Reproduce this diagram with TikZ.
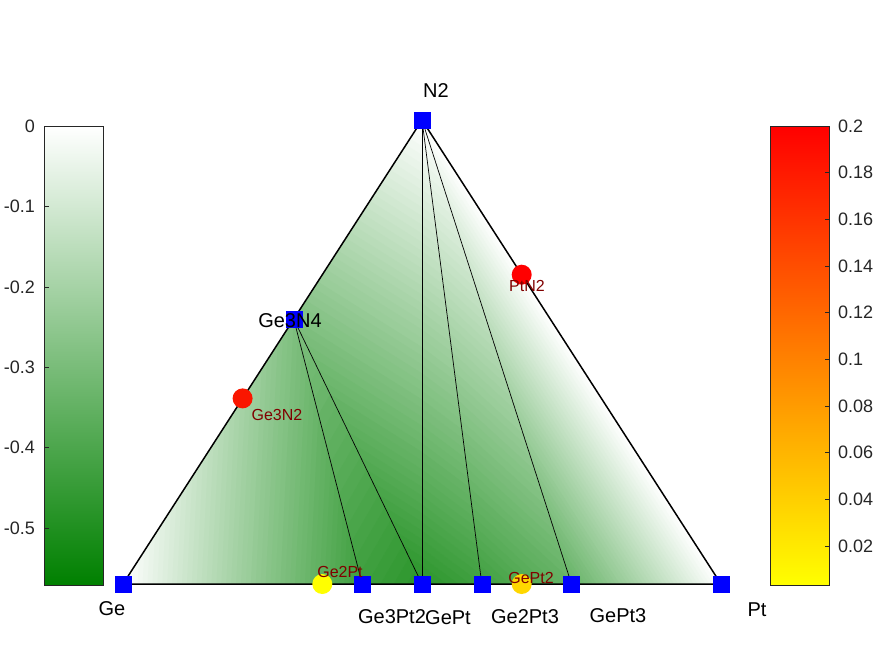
\documentclass[tikz,border=0pt]{standalone}
\usepackage{fontspec}
\setmainfont{Liberation Sans}
\usetikzlibrary{positioning, calc}
\definecolor{cG}{RGB}{0, 128, 0}
\definecolor{cB}{RGB}{0, 0, 255}
\definecolor{cL}{RGB}{128, 0, 0}
\definecolor{cK}{RGB}{38, 38, 38}
\definecolor{cY}{RGB}{255, 255, 0}
\definecolor{cO}{RGB}{255, 215, 0}
\definecolor{cR}{RGB}{255, 0, 0}
\definecolor{cRo}{RGB}{250, 22, 0}
\tikzstyle{StateS}=[rectangle,
		minimum size = 16pt,
		inner sep = 0pt,
		draw=cB,
		fill=cB]
\tikzstyle{StateU}=[circle,
		minimum size = 20pt,
		inner sep = 0pt]
\tikzstyle{Lbl}=[font=\fontsize{20}{24}\selectfont, inner sep=0pt]
\tikzstyle{Sml}=[font=\fontsize{16}{19}\selectfont, text=cL, inner sep=0pt]
\tikzstyle{Tck}=[font=\fontsize{18}{22}\selectfont, text=cK, inner sep=0pt]
% shaded facet: corners #1 #2 #3, green share #4 #5 #6 (64 colour bands)
\newcommand{\gtri}[6]{%
  \pgfpointanchor{#1}{center}\pgfgetlastxy{\ax}{\ay}%
  \pgfpointanchor{#2}{center}\pgfgetlastxy{\bx}{\by}%
  \pgfpointanchor{#3}{center}\pgfgetlastxy{\cx}{\cy}%
  \pgfmathsetmacro{\ex}{(\bx-\ax)/100}%
  \pgfmathsetmacro{\ey}{(\by-\ay)/100}%
  \pgfmathsetmacro{\fx}{(\cx-\ax)/100}%
  \pgfmathsetmacro{\fy}{(\cy-\ay)/100}%
  \pgfmathsetmacro{\da}{100*(#5-#4)}%
  \pgfmathsetmacro{\db}{100*(#6-#4)}%
  \pgfmathsetmacro{\dt}{\ex*\fy-\ey*\fx}%
  \pgfmathsetmacro{\gx}{(\da*\fy-\db*\ey)/\dt}%
  \pgfmathsetmacro{\gy}{(\db*\ex-\da*\fx)/\dt}%
  \pgfmathsetmacro{\gm}{sqrt(\gx*\gx+\gy*\gy)}%
  \pgfmathsetmacro{\ang}{atan2(\gy,\gx)}%
  \begin{scope}
    \clip (#1) -- (#2) -- (#3) -- cycle;
    \foreach \k in {0,...,63}{%
      \pgfmathsetmacro{\sa}{100*(100*\k/64-100*#4)/\gm}%
      \pgfmathsetmacro{\sb}{100*(100*(\k+1)/64-100*#4)/\gm+0.6}%
      \pgfmathsetmacro{\gv}{100*(\k+0.5)/64}%
      \fill[cG!\gv!white, shift={(\ax,\ay)}, rotate=\ang]
        (\sa pt,-1000pt) rectangle (\sb pt,1000pt);
    }
  \end{scope}
}
\begin{document}
\begin{tikzpicture}[x=1pt,y=-1pt]
  \useasboundingbox (0,0) rectangle (875,656);

  % phases
  \coordinate (Ge) at (123,584);
  \coordinate (Pt) at (721,584);
  \coordinate (N2) at (422,120);
  \coordinate (Ge3N4) at (293.7,318.9);
  \coordinate (Ge3Pt2) at (362.2,584);
  \coordinate (GePt) at (422,584);
  \coordinate (Ge2Pt3) at (481.8,584);
  \coordinate (GePt3) at (571.5,584);
  \coordinate (Ge3N2) at (242.6,398.4);
  \coordinate (PtN2) at (521.7,274.7);
  \coordinate (Ge2Pt) at (322.3,584);
  \coordinate (GePt2) at (521.7,584);

  % shaded facets
  \gtri{Ge}{Ge3Pt2}{Ge3N4}{0}{0.76}{0.5}
  \gtri{Ge3Pt2}{GePt}{Ge3N4}{0.76}{0.83}{0.5}
  \gtri{Ge3N4}{GePt}{N2}{0.5}{0.83}{0}
  \gtri{N2}{GePt}{Ge2Pt3}{0}{0.83}{0.75}
  \gtri{N2}{Ge2Pt3}{GePt3}{0}{0.75}{0.6}
  \gtri{N2}{GePt3}{Pt}{0}{0.6}{0}

  % hull and tie lines
  \draw[line width=1.5pt, line join=round] (Ge) -- (Pt) -- (N2) -- cycle;
  \draw[line width=0.7pt] (Ge3N4) -- (Ge3Pt2);
  \draw[line width=0.7pt] (Ge3N4) -- (GePt);
  \draw[line width=0.7pt] (N2) -- (GePt);
  \draw[line width=0.7pt] (N2) -- (Ge2Pt3);
  \draw[line width=0.7pt] (N2) -- (GePt3);

  % stable and unstable phases
  \foreach \p in {Ge,Pt,N2,Ge3N4,Ge3Pt2,GePt,Ge2Pt3,GePt3}
    \node [StateS] (s\p) at (\p) {};
  \node [StateU,fill=cRo] (uGe3N2) at (Ge3N2) {};
  \node [StateU,fill=cR] (uPtN2) at (PtN2) {};
  \node [StateU,fill=cY] (uGe2Pt) at (Ge2Pt) {};
  \node [StateU,fill=cO] (uGePt2) at (GePt2) {};

  % labels
  \node [Lbl] (lN2) at (436,91) {N2};
  \node [Lbl] (lGe) at (112,609) {Ge};
  \node [Lbl] (lPt) at (757,610) {Pt};
  \node [Lbl] (lGe3N4) at (290,321) {Ge3N4};
  \node [Lbl] (lGe3Pt2) at (392,617) {Ge3Pt2};
  \node [Lbl] (lGePt) at (448,618) {GePt};
  \node [Lbl] (lGe2Pt3) at (525,617) {Ge2Pt3};
  \node [Lbl] (lGePt3) at (618,616) {GePt3};
  \node [Sml] (lGe3N2) at (277,415) {Ge3N2};
  \node [Sml] (lPtN2) at (527,286) {PtN2};
  \node [Sml] (lGe2Pt) at (340,572) {Ge2Pt};
  \node [Sml] (lGePt2) at (531,578) {GePt2};

  % colour bars
  \shade[top color=white, bottom color=cG] (44,126) rectangle (103,585);
  \draw[cK, line width=0.6pt] (44,126) rectangle (103,585);
  \foreach \v [count=\n from 0] in {0,-0.1,-0.2,-0.3,-0.4,-0.5} {
    \draw[cK, line width=0.6pt] (44,126+80.4*\n) -- ++(4.5,0);
    \node [Tck,anchor=east] (tl\n) at (35,126+80.4*\n) {\v};
  }
  \shade[top color=cR, bottom color=cY] (770,126) rectangle (829,585);
  \draw[cK, line width=0.6pt] (770,126) rectangle (829,585);
  \foreach \v [count=\n] in {0.02,0.04,0.06,0.08,0.1,0.12,0.14,0.16,0.18,0.2} {
    \draw[cK, line width=0.6pt] (829,126+2333.3*0.2-2333.3*\v) -- ++(-4.5,0);
    \node [Tck,anchor=west] (tr\n) at (838,126+2333.3*0.2-2333.3*\v) {\v};
  }
\end{tikzpicture}
\end{document}
